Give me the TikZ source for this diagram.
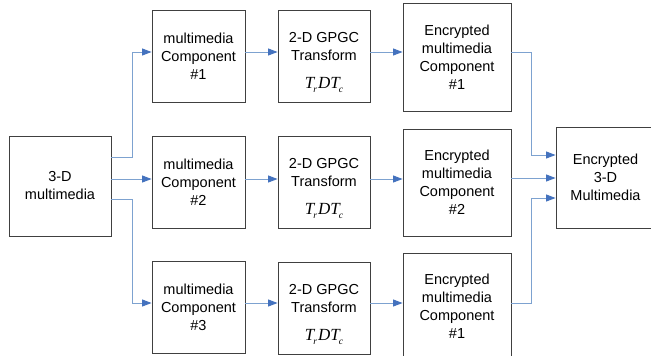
\documentclass[tikz,border=0pt]{standalone}
\usepackage{fontspec}
\setmainfont{Liberation Sans}
\newfontfamily\formulafont{Liberation Serif}
\usetikzlibrary{arrows.meta,calc}
\definecolor{boxline}{RGB}{64,64,64}
\definecolor{flowline}{RGB}{125,162,208}
\definecolor{flowhead}{RGB}{68,114,190}
% T_r D T_c set in a Times-like italic
\newcommand{\lowsub}[1]{\raisebox{-4.5pt}{\fontsize{9.5}{9.5}\selectfont #1}}
\newcommand{\trdtc}{{\formulafont\itshape\fontsize{17}{18}\selectfont T\kern-1pt\lowsub{r}\kern1pt DT\kern-1pt\lowsub{c}}}
% transform box text; the strut keeps the three lines where they sit in the box
\newcommand{\gpgctext}{\rule{0pt}{23pt}2-D GPGC\\Transform\\[10pt]\trdtc}
\begin{document}
\begin{tikzpicture}[x=1pt,y=-1pt,
  block/.style={draw=boxline,line width=0.9pt,inner sep=0pt,align=center,
    font=\fontsize{14.5}{18}\selectfont},
  arr/.style={draw=flowline,line width=0.9pt,
    -{Triangle[length=9.5pt,width=7pt,fill=flowhead,color=flowhead]}}]
\useasboundingbox (0,0) rectangle (651,356);
\clip (0,0) rectangle (651,356);
\fill[white] (0,0) rectangle (651,356);

% source
\node[block,minimum width=102pt,minimum height=100pt] (src) at (60,186) {3-D\\multimedia};

% first column: components
\node[block,minimum width=93pt,minimum height=92pt] (c1) at (198.5,56) {multimedia\\Component\\\#1};
\node[block,minimum width=93pt,minimum height=92pt] (c2) at (198.5,182) {multimedia\\Component\\\#2};
\node[block,minimum width=93pt,minimum height=92pt] (c3) at (198.5,307.5) {multimedia\\Component\\\#3};

% second column: transforms
\node[block,minimum width=92pt,minimum height=92pt] (g1) at (324,56) {\gpgctext};
\node[block,minimum width=92pt,minimum height=92pt] (g2) at (324,182) {\gpgctext};
\node[block,minimum width=92pt,minimum height=92pt] (g3) at (324,308) {\gpgctext};

% third column: encrypted components
\node[block,minimum width=108pt,minimum height=108pt] (e1) at (457,57) {Encrypted\\multimedia\\Component\\\#1};
\node[block,minimum width=108pt,minimum height=107pt] (e2) at (457,182.5) {Encrypted\\multimedia\\Component\\\#2};
\node[block,minimum width=108pt,minimum height=107pt] (e3) at (457,306.5) {Encrypted\\multimedia\\Component\\\#1};

% result
\node[block,minimum width=99pt,minimum height=101pt] (res) at (605.5,177.5) {Encrypted\\3-D\\Multimedia};

% row levels of the flow lines
\coordinate (r1) at (0,52);
\coordinate (r2) at (0,179);
\coordinate (r3) at (0,303);
\coordinate (m2) at (0,178);

% split
\draw[arr] ([yshift=29pt]src.east) -- ++(21pt,0) |- (c1.west |- r1);
\draw[arr] (src.east |- r2) -- (c2.west |- r2);
\draw[arr] ([yshift=-13pt]src.east) -- ++(21pt,0) |- (c3.west |- r3);

% rows
\draw[arr] (c1.east |- r1) -- (g1.west |- r1);
\draw[arr] (c2.east |- r2) -- (g2.west |- r2);
\draw[arr] (c3.east |- r3) -- (g3.west |- r3);
\draw[arr] (g1.east |- r1) -- (e1.west |- r1);
\draw[arr] (g2.east |- r2) -- (e2.west |- r2);
\draw[arr] (g3.east |- r3) -- (e3.west |- r3);

% merge
\draw[arr] (e1.east |- r1) -| ([xshift=-24pt,yshift=22.5pt]res.west) -- ([yshift=22.5pt]res.west);
\draw[arr] (e2.east |- m2) -- (res.west |- m2);
\draw[arr] (e3.east |- r3) -| ([xshift=-24pt,yshift=-20.5pt]res.west) -- ([yshift=-20.5pt]res.west);
\end{tikzpicture}
\end{document}
